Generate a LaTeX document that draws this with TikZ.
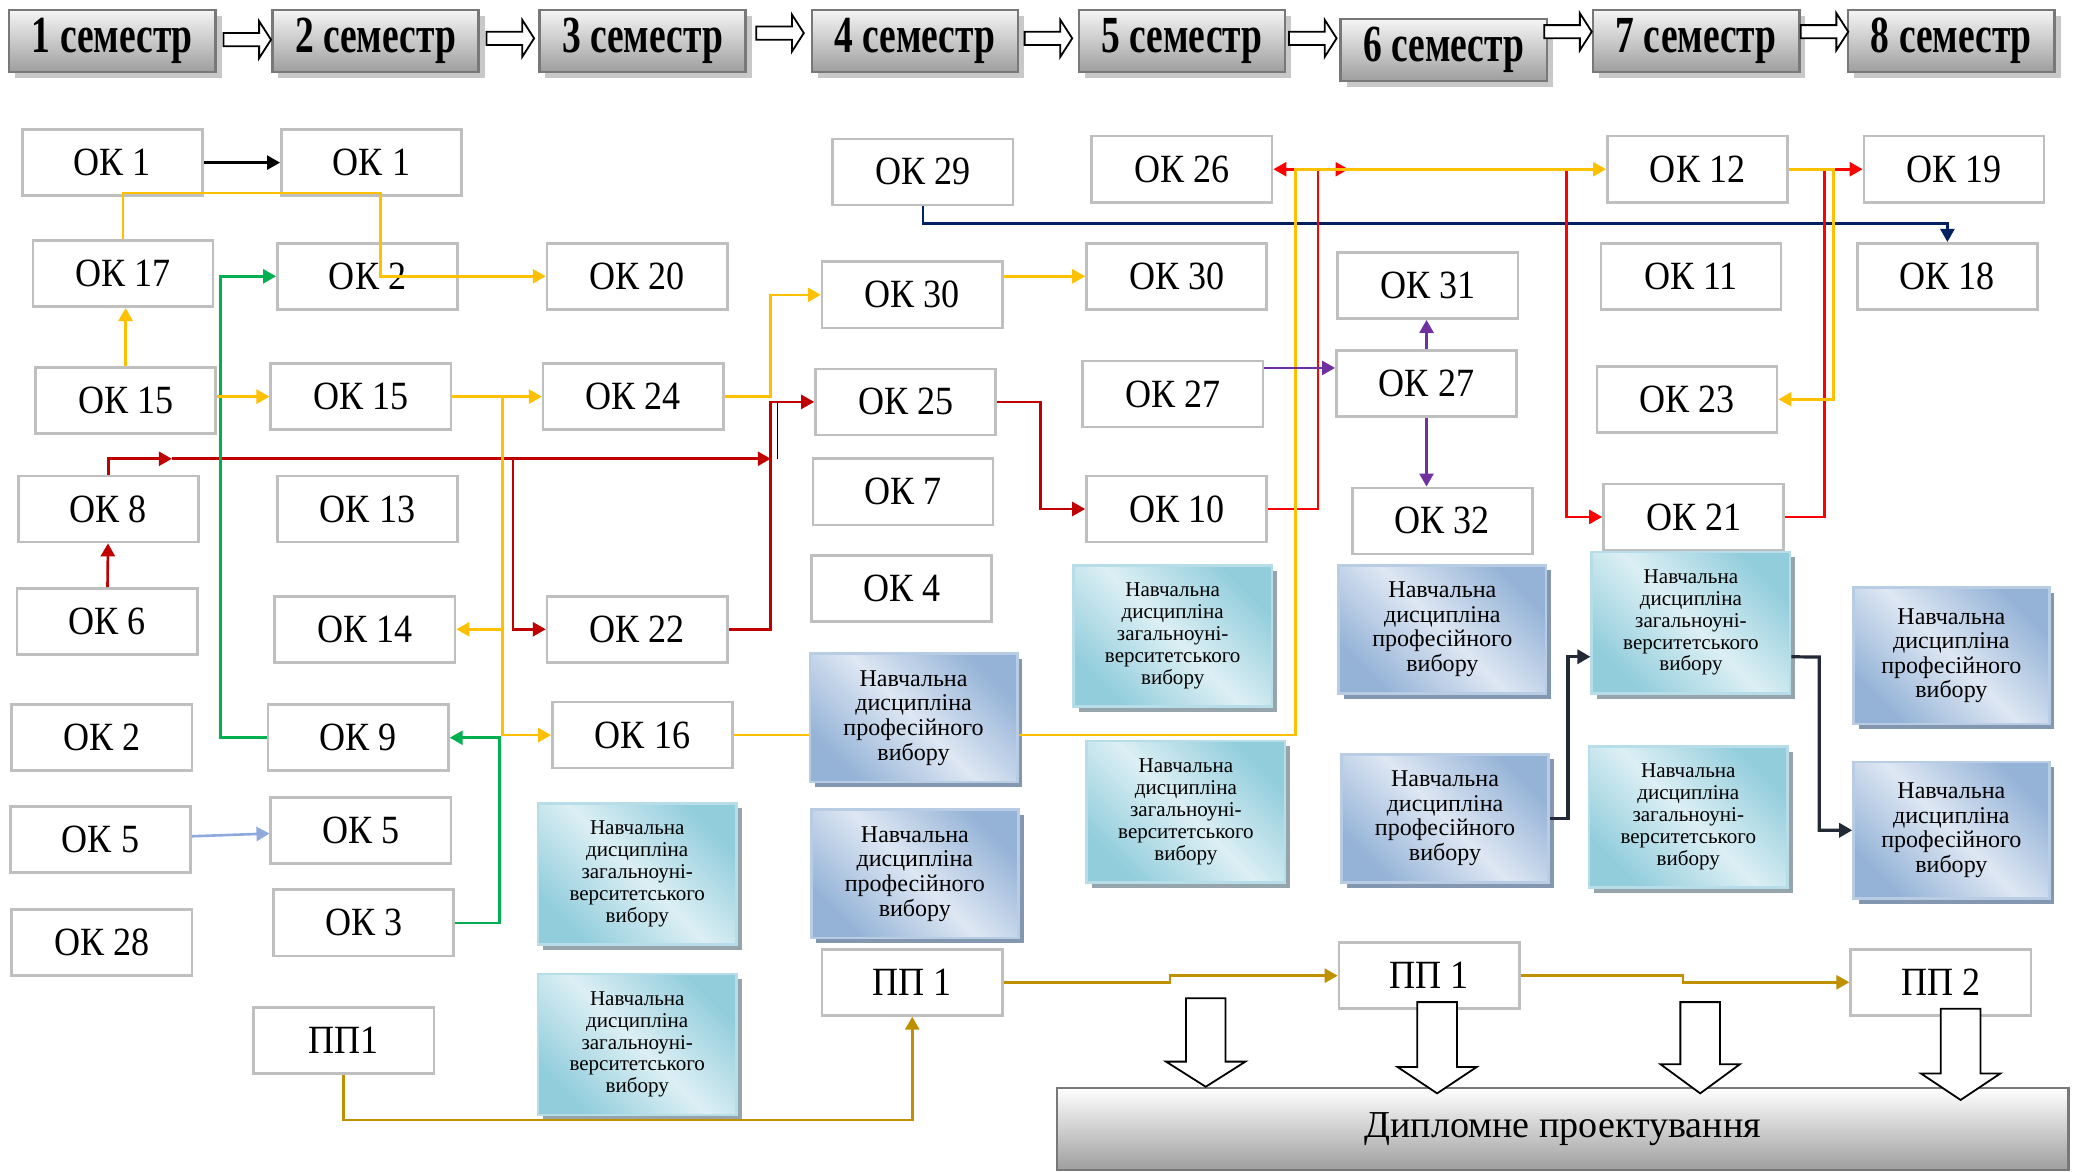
\documentclass[tikz,border=0pt]{standalone}
\usepackage{fontspec}
\setmainfont{Liberation Serif}
\newfontfamily\okfont[FakeStretch=0.9]{Liberation Serif}
\newfontfamily\semfont[FakeStretch=0.72]{Liberation Serif}
\usepackage{tikz}
\usetikzlibrary{calc}
\usetikzlibrary{positioning}
\usetikzlibrary{arrows.meta}
\usetikzlibrary{shadows}
\definecolor{red}{RGB}{192,0,0}
\definecolor{brightred}{RGB}{255,0,0}
\definecolor{gray}{RGB}{191,191,191}
\definecolor{green}{RGB}{0,176,80}
\definecolor{yellow}{RGB}{255,192,0}
\definecolor{gold}{RGB}{191,144,0}
\definecolor{navy}{RGB}{0,32,96}
\definecolor{purple}{RGB}{112,48,160}
\definecolor{lightblue}{RGB}{142,169,219}
\definecolor{slate}{RGB}{34,42,53}
\definecolor{semtop}{RGB}{245,245,245}
\definecolor{sembot}{RGB}{158,158,158}
\definecolor{semline}{RGB}{120,120,120}
\definecolor{semshadow}{RGB}{200,200,200}
\definecolor{profdark}{RGB}{149,179,215}
\definecolor{proflight}{RGB}{222,231,243}
\definecolor{profline}{RGB}{184,204,228}
\definecolor{profshadow}{RGB}{132,151,176}
\definecolor{unidark}{RGB}{146,205,220}
\definecolor{unilight}{RGB}{220,239,244}
\definecolor{uniline}{RGB}{183,222,232}
\definecolor{unishadow}{RGB}{150,165,172}

\begin{document}
\begin{tikzpicture}[x=0.66pt,y=-0.66pt,>={Triangle[length=6.5pt,width=7pt]},line width=1.3pt,
  okbox/.style={draw=gray,line width=1.3pt,fill=white,minimum width=90pt,minimum height=33pt,inner sep=0pt,font=\okfont\fontsize{20}{22}\selectfont},
  sembox/.style={draw=semline,line width=1.2pt,top color=semtop,bottom color=sembot,minimum width=103pt,minimum height=31pt,inner sep=0pt,font=\semfont\bfseries\fontsize{26}{28}\selectfont,drop shadow={shadow xshift=3pt,shadow yshift=-3pt,fill=semshadow,opacity=1}},
  profbox/.style={draw=profline,line width=1.3pt,top color=profdark,bottom color=profdark,middle color=proflight,shading angle=-45,minimum width=103.5pt,minimum height=64pt,inner sep=0pt,align=center,font=\fontsize{12}{12.3}\selectfont,drop shadow={shadow xshift=2.6pt,shadow yshift=-2.6pt,fill=profshadow,opacity=1}},
  unibox/.style={draw=uniline,line width=1.3pt,top color=unidark,bottom color=unidark,middle color=unilight,shading angle=-45,minimum width=99pt,minimum height=70.5pt,inner sep=0pt,align=center,font=\fontsize{10.5}{10.9}\selectfont,drop shadow={shadow xshift=2.6pt,shadow yshift=-2.6pt,fill=unishadow,opacity=1}}]

\useasboundingbox (0,0) rectangle (1568,886);

% semesters
\node[sembox] (sem1) at (85,31) {1 семестр};
\node[sembox] (sem2) at (284,31) {2 семестр};
\node[sembox] (sem3) at (486,31) {3 семестр};
\node[sembox] (sem4) at (692,31) {4 семестр};
\node[sembox] (sem5) at (894,31) {5 семестр};
\node[sembox] (sem6) at (1092,38) {6 семестр};
\node[sembox] (sem7) at (1283,31) {7 семестр};
\node[sembox] (sem8) at (1476,31) {8 семестр};

\foreach \xa/\ya in {187/30,386/29,590/25,793/29,993/29,1186/24,1380/24}
  \draw[line width=0.9pt,fill=white] (\xa-18,\ya-5) -- (\xa+9,\ya-5) -- (\xa+9,\ya-14) -- (\xa+18,\ya) -- (\xa+9,\ya+14) -- (\xa+9,\ya+5) -- (\xa-18,\ya+5) -- cycle;

% 1 semester
\node[okbox] (s1ok1) at (85,123) {ОК 1};
\node[okbox] (s1ok17) at (93,207) {ОК 17};
\node[okbox] (s1ok15) at (95,303) {ОК 15};
\node[okbox] (s1ok8) at (82,385) {ОК 8};
\node[okbox] (s1ok6) at (81,470) {ОК 6};
\node[okbox] (s1ok2) at (77,558) {ОК 2};
\node[okbox] (s1ok5) at (76,635) {ОК 5};
\node[okbox] (s1ok28) at (77,713) {ОК 28};

% 2 semester
\node[okbox] (s2ok1) at (281,123) {ОК 1};
\node[okbox] (s2ok2) at (278,209) {ОК 2};
\node[okbox] (s2ok15) at (273,300) {ОК 15};
\node[okbox] (s2ok13) at (278,385) {ОК 13};
\node[okbox] (s2ok14) at (276,476) {ОК 14};
\node[okbox] (s2ok9) at (271,558) {ОК 9};
\node[okbox] (s2ok5) at (273,628) {ОК 5};
\node[okbox] (s2ok3) at (275,698) {ОК 3};
\node[okbox] (s2pp1) at (260,787) {ПП1};

% 3 semester
\node[okbox] (s3ok20) at (482,209) {ОК 20};
\node[okbox] (s3ok24) at (479,300) {ОК 24};
\node[okbox] (s3ok22) at (482,476) {ОК 22};
\node[okbox] (s3ok16) at (486,556) {ОК 16};
\node[unibox] (s3zv1) at (482,661) {Навчальна\\дисципліна\\загальноуні-\\верситетського\\вибору};
\node[unibox] (s3zv2) at (482,790) {Навчальна\\дисципліна\\загальноуні-\\верситетського\\вибору};

% 4 semester
\node[okbox] (s4ok29) at (698,130) {ОК 29};
\node[okbox] (s4ok30) at (690,223) {ОК 30};
\node[okbox] (s4ok25) at (685,304) {ОК 25};
\node[okbox] (s4ok7) at (683,372) {ОК 7};
\node[okbox] (s4ok4) at (682,445) {ОК 4};
\node[profbox] (s4pv1) at (691,543) {Навчальна\\дисципліна\\професійного\\вибору};
\node[profbox] (s4pv2) at (692,661) {Навчальна\\дисципліна\\професійного\\вибору};
\node[okbox] (s4pp1) at (690,743) {ПП 1};

% 5 semester
\node[okbox] (s5ok26) at (894,128) {ОК 26};
\node[okbox] (s5ok30) at (890,209) {ОК 30};
\node[okbox] (s5ok27) at (887,298) {ОК 27};
\node[okbox] (s5ok10) at (890,385) {ОК 10};
\node[unibox] (s5zv1) at (887,481) {Навчальна\\дисципліна\\загальноуні-\\верситетського\\вибору};
\node[unibox] (s5zv2) at (897,614) {Навчальна\\дисципліна\\загальноуні-\\верситетського\\вибору};

% 6 semester
\node[okbox] (s6ok31) at (1080,216) {ОК 31};
\node[okbox] (s6ok27) at (1079,290) {ОК 27};
\node[okbox] (s6ok32) at (1091,394) {ОК 32};
\node[profbox] (s6pv1) at (1091,476) {Навчальна\\дисципліна\\професійного\\вибору};
\node[profbox] (s6pv2) at (1093,619) {Навчальна\\дисципліна\\професійного\\вибору};
\node[okbox] (s6pp1) at (1081,738) {ПП 1};

% 7 semester
\node[okbox] (s7ok12) at (1284,128) {ОК 12};
\node[okbox] (s7ok11) at (1279,209) {ОК 11};
\node[okbox] (s7ok23) at (1276,302) {ОК 23};
\node[okbox] (s7ok21) at (1281,391) {ОК 21};
\node[unibox] (s7zv1) at (1279,471) {Навчальна\\дисципліна\\загальноуні-\\верситетського\\вибору};
\node[unibox] (s7zv2) at (1277,618) {Навчальна\\дисципліна\\загальноуні-\\верситетського\\вибору};

% 8 semester
\node[okbox] (s8ok19) at (1478,128) {ОК 19};
\node[okbox] (s8ok18) at (1473,209) {ОК 18};
\node[profbox,minimum width=97.7pt,minimum height=68pt] (s8pv1) at (1476,496) {Навчальна\\дисципліна\\професійного\\вибору};
\node[profbox,minimum width=97.7pt,minimum height=68pt] (s8pv2) at (1476,628) {Навчальна\\дисципліна\\професійного\\вибору};
\node[okbox] (s8pp2) at (1468,743) {ПП 2};

\node[draw=semline,line width=1.3pt,top color=white,bottom color=sembot,minimum width=505pt,minimum height=41pt,font=\fontsize{19}{21}\selectfont] (dipl) at (1182,854) {Дипломне проектування};

\foreach \xa/\ya/\yb/\yc in {912/755/803/822,1087/758/807/827,1286/758/805/827,1483/763/812/832}
  \draw[line width=0.9pt,fill=white] (\xa-15,\ya) -- (\xa+15,\ya) -- (\xa+15,\yb) -- (\xa+30,\yb) -- (\xa,\yc) -- (\xa-30,\yb) -- (\xa-15,\yb) -- cycle;

% bends
\coordinate (yA) at (288,146);
\coordinate (yB) at (380,300);
\coordinate (yC) at (583,300);
\coordinate (yD) at (980,556);
\coordinate (yE) at (980,128);
\coordinate (yF) at (1387,128);
\coordinate (rA) at (130,347);
\coordinate (rB) at (583,347);
\coordinate (rC) at (583,304);
\coordinate (rD) at (388,347);
\coordinate (rE) at (787,304);
\coordinate (rF) at (997,385);
\coordinate (rG) at (997,128);
\coordinate (rH) at (1020,128);
\coordinate (rI) at (1185,128);
\coordinate (rJ) at (1380,391);
\coordinate (gA) at (167,558);
\coordinate (gB) at (378,698);
\coordinate (nA) at (1473,169);
\coordinate (dA) at (1186,619);
\coordinate (dB) at (1376,497);
\coordinate (oA) at (690,847);
\coordinate (oB) at (885,743);
\coordinate (oC) at (885,738);
\coordinate (oD) at (1273,738);
\coordinate (oE) at (1273,743);

% links
\draw[->,black] (s1ok1) -- (s2ok1);
\draw[->,red] (s1ok6) -- (s1ok8);
\draw[->,red] (s1ok8.north) |- (rA);
\draw[->,red] (rA) -- (rB);
\draw[->,red] (rD) |- (s3ok22.west);
\draw[->,red] (s3ok22.east) -| (rC) -- (s4ok25.west);
\draw[black,line width=0.6pt] ([xshift=3.3pt]rC) -- ([xshift=3.3pt]rB);
\draw[->,red] (s4ok25.east) -- (rE) |- (s5ok10.west);
\draw[->,green] (s2ok9.west) -- (gA) |- (s2ok2.west);
\draw[->,green] (s2ok3.east) -- (gB) |- (s2ok9.east);
\draw[->,lightblue] (s1ok5) -- (s2ok5);
\draw[->,yellow] (s1ok17.north) |- (yA) |- (s3ok20.west);
\draw[->,yellow] (s1ok15.north) -- (s1ok15.north |- s1ok17.south);
\draw[->,yellow] (s1ok15.east |- s2ok15) -- (s2ok15.west);
\draw[->,yellow] (s2ok15) -- (s3ok24);
\draw[->,yellow] (yB) |- (s2ok14.east);
\draw[->,yellow] (yB) |- (s3ok16.west);
\draw[->,yellow] (s3ok24.east) -- (yC) |- (s4ok30.west);
\draw[->,yellow] (s4ok30.east |- s5ok30) -- (s5ok30.west);
\draw[->,navy] (s4ok29.south) |- (nA) -- (s8ok18.north);
\draw[->,brightred] (s5ok10.east) -- (rF) -- (rG) -- (s5ok26.east);
\draw[->,brightred] (rG) -- (rH);
\draw[->,brightred] (rH) -- (rI) |- (s7ok21.west);
\draw[yellow] (s3ok16.east) -- (s3ok16.east -| s4pv1.west);
\draw[->,yellow] (s3ok16.east -| s4pv1.east) -- (yD) -- (yE) -- (s7ok12.west);
\draw[->,purple] ([yshift=13pt]s5ok27.east) -- ([yshift=13pt]s5ok27.east -| s6ok27.west);
\draw[->,purple] (s6ok27.north) -- (s6ok27.north |- s6ok31.south);
\draw[->,purple] (s6ok27.south) -- (s6ok27.south |- s6ok32.north);
\draw[->,brightred] (s7ok21.east) -- (rJ) |- (s8ok19.west);
\draw[->,yellow] (s7ok12.east) -- (yF) |- (s7ok23.east);
\draw[->,slate,line width=1.6pt] (s6pv2.east) -- (dA) |- ([yshift=-17pt]s7zv1.west);
\draw[->,slate,line width=1.6pt] ([yshift=-17pt]s7zv1.east) -- (dB) |- (s8pv2.west);
\draw[->,gold] (s2pp1.south) |- (oA) -- (s4pp1.south);
\draw[->,gold] (s4pp1.east) -- (oB) -- (oC) -- (s6pp1.west);
\draw[->,gold] (s6pp1.east) -- (oD) -- (oE) -- (s8pp2.west);
\end{tikzpicture}
\end{document}
